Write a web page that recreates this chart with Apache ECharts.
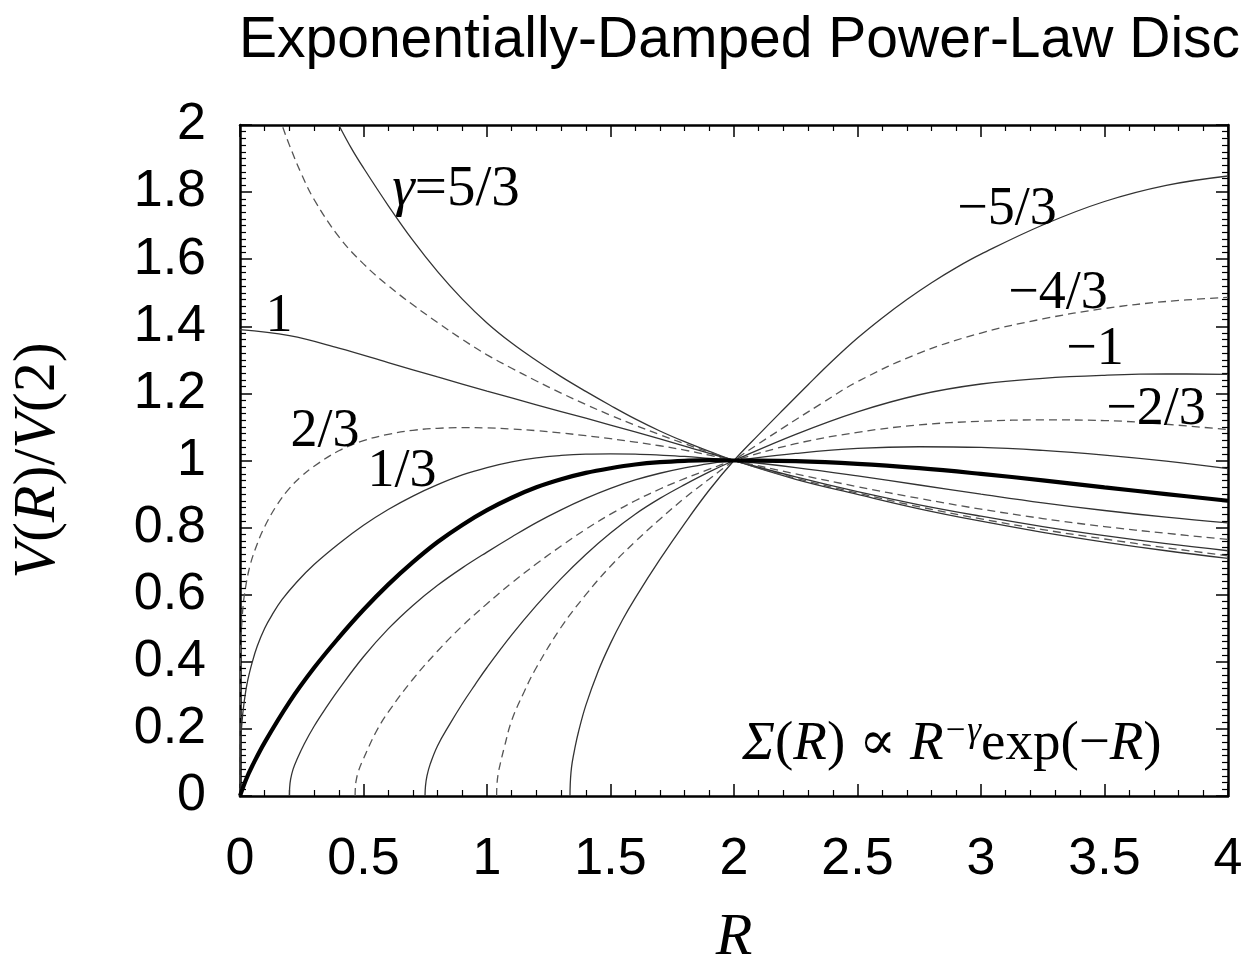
<!DOCTYPE html>
<html><head><meta charset="utf-8">
<script src="https://cdn.jsdelivr.net/npm/echarts@6/dist/echarts.min.js"></script>
<style>html,body{margin:0;padding:0;background:#fff}#c{width:1247px;height:973px}</style>
</head><body><div id="c"></div>
<script>
// ---- axis ranges / ticks ----
const R_RANGE = [0, 4];
const V_RANGE = [0, 2];
const R_STEP = 0.5;
const V_STEP = 0.2;

// ---- curve names (gamma) ----
const gammaNames = ['5/3','4/3','1','2/3','1/3','0','−1/3','−2/3','−1','−4/3','−5/3'];

// ---- curves: [R, V(R)/V(2)] ----
const g_p5_3 = [[0.38,2.03],[0.4,2.0],[0.45,1.932],[0.5,1.872],[0.6,1.76],[0.7,1.656],[0.8,1.563],[0.9,1.481],[1.0,1.41],[1.1,1.35],[1.2,1.298],[1.3,1.25],[1.4,1.206],[1.5,1.164],[1.6,1.124],[1.7,1.088],[1.8,1.056],[1.9,1.027],[2.0,1.0],
  [2.25,0.944],[2.5,0.899],[2.75,0.856],[3.0,0.819],[3.25,0.786],[3.5,0.757],[3.75,0.731],[4.0,0.708]];
const g_p4_3 = [[0.155,2.03],[0.17,2.0],[0.2,1.94],[0.25,1.852],[0.3,1.778],[0.4,1.667],[0.5,1.586],[0.6,1.521],[0.7,1.464],[0.8,1.411],[0.9,1.361],[1.0,1.315],[1.1,1.275],[1.2,1.237],[1.3,1.201],[1.4,1.167],[1.5,1.135],[1.6,1.105],[1.7,1.077],[1.8,1.05],[1.9,1.025],[2.0,1.0],
  [2.25,0.947],[2.5,0.903],[2.75,0.862],[3.0,0.826],[3.25,0.794],[3.5,0.766],[3.75,0.74],[4.0,0.716]];
const g_p1 = [[0,1.39],[0.2,1.372],[0.4,1.335],[0.6,1.292],[0.8,1.249],[1.0,1.207],[1.2,1.166],[1.4,1.126],[1.6,1.085],[1.8,1.043],[2.0,1.0],
  [2.25,0.951],[2.5,0.907],[2.75,0.868],[3.0,0.834],[3.25,0.803],[3.5,0.776],[3.75,0.752],[4.0,0.731]];
const g_p2_3 = [[0,0],[0.001,0.37],[0.003,0.445],[0.01,0.545],[0.02,0.61],[0.04,0.685],[0.07,0.752],[0.1,0.803],[0.15,0.868],[0.2,0.917],[0.25,0.954],[0.3,0.983],[0.4,1.029],[0.5,1.059],[0.6,1.078],[0.7,1.09],[0.8,1.096],[0.9,1.098],[1.0,1.097],[1.1,1.094],[1.2,1.089],[1.3,1.082],[1.4,1.074],[1.5,1.065],[1.6,1.055],[1.7,1.044],[1.8,1.031],[1.9,1.016],[2.0,1.0],
  [2.25,0.96],[2.5,0.922],[2.75,0.887],[3.0,0.855],[3.25,0.827],[3.5,0.803],[3.75,0.783],[4.0,0.765]];
const g_p1_3 = [[0,0],[0.003,0.16],[0.008,0.22],[0.016,0.275],[0.03,0.34],[0.05,0.4],[0.07,0.447],[0.1,0.5],[0.13,0.54],[0.17,0.585],[0.23,0.638],[0.3,0.69],[0.4,0.752],[0.5,0.807],[0.6,0.854],[0.7,0.894],[0.8,0.928],[0.9,0.957],[1.0,0.979],[1.1,0.996],[1.2,1.008],[1.3,1.015],[1.4,1.019],[1.5,1.02],[1.6,1.019],[1.7,1.016],[1.8,1.012],[1.9,1.006],[2.0,1.0],
  [2.25,0.979],[2.5,0.954],[2.75,0.927],[3.0,0.9],[3.25,0.874],[3.5,0.851],[3.75,0.831],[4.0,0.814]];
const g_0 = [[0,0],[0.025,0.05],[0.05,0.09],[0.1,0.16],[0.2,0.28],[0.3,0.382],[0.4,0.472],[0.5,0.555],[0.6,0.63],[0.7,0.697],[0.8,0.757],[0.9,0.808],[1.0,0.852],[1.1,0.889],[1.2,0.92],[1.3,0.944],[1.4,0.963],[1.5,0.977],[1.6,0.988],[1.7,0.995],[1.8,0.999],[1.9,1.001],[2.0,1.0],
  [2.25,0.998],[2.5,0.99],[2.75,0.977],[3.0,0.96],[3.25,0.941],[3.5,0.92],[3.75,0.9],[4.0,0.88]];
const g_m1_3 = [[0.2,0],[0.201,0.025],[0.205,0.05],[0.215,0.08],[0.23,0.108],[0.26,0.155],[0.3,0.208],[0.35,0.265],[0.4,0.318],[0.5,0.415],[0.6,0.498],[0.7,0.568],[0.8,0.628],[0.9,0.68],[1.0,0.727],[1.1,0.772],[1.2,0.815],[1.3,0.853],[1.4,0.887],[1.5,0.917],[1.6,0.942],[1.7,0.962],[1.8,0.978],[1.9,0.991],[2.0,1.0],
  [2.25,1.021],[2.5,1.036],[2.75,1.041],[3.0,1.039],[3.25,1.03],[3.5,1.016],[3.75,0.998],[4.0,0.976]];
const g_m2_3 = [[0.466,0],[0.467,0.025],[0.47,0.045],[0.48,0.075],[0.5,0.111],[0.55,0.19],[0.6,0.25],[0.7,0.348],[0.8,0.432],[0.9,0.507],[1.0,0.573],[1.1,0.635],[1.2,0.692],[1.3,0.745],[1.4,0.795],[1.5,0.84],[1.6,0.88],[1.7,0.915],[1.8,0.946],[1.9,0.974],[2.0,1.0],
  [2.25,1.05],[2.5,1.084],[2.75,1.106],[3.0,1.117],[3.25,1.121],[3.5,1.119],[3.75,1.108],[4.0,1.092]];
const g_m1 = [[0.749,0],[0.751,0.03],[0.757,0.06],[0.77,0.095],[0.8,0.15],[0.85,0.215],[0.9,0.275],[0.95,0.33],[1.0,0.383],[1.1,0.48],[1.2,0.568],[1.3,0.648],[1.4,0.72],[1.5,0.784],[1.6,0.84],[1.7,0.887],[1.8,0.928],[1.9,0.966],[2.0,1.0],
  [2.25,1.078],[2.5,1.145],[2.75,1.196],[3.0,1.228],[3.25,1.245],[3.5,1.254],[3.75,1.258],[4.0,1.257]];
const g_m4_3 = [[1.039,0],[1.04,0.03],[1.045,0.065],[1.055,0.1],[1.07,0.145],[1.1,0.225],[1.15,0.31],[1.2,0.383],[1.3,0.503],[1.4,0.6],[1.5,0.685],[1.6,0.758],[1.7,0.825],[1.8,0.888],[1.9,0.945],[2.0,1.0],
  [2.1,1.05],[2.2,1.098],[2.35,1.168],[2.5,1.235],[2.75,1.32],[3.0,1.38],[3.25,1.422],[3.5,1.453],[3.75,1.474],[4.0,1.486]];
const g_m5_3 = [[1.336,0],[1.337,0.035],[1.34,0.07],[1.345,0.1],[1.355,0.14],[1.37,0.19],[1.4,0.27],[1.45,0.372],[1.5,0.455],[1.55,0.527],[1.6,0.59],[1.7,0.705],[1.8,0.812],[1.9,0.912],[2.0,1.0],
  [2.1,1.077],[2.2,1.152],[2.3,1.226],[2.4,1.298],[2.5,1.365],[2.6,1.425],[2.7,1.48],[2.8,1.53],[2.9,1.575],[3.0,1.615],[3.25,1.702],[3.5,1.772],[3.75,1.82],[4.0,1.848]];

const curves = [g_p5_3, g_p4_3, g_p1, g_p2_3, g_p1_3, g_0, g_m1_3, g_m2_3, g_m1, g_m4_3, g_m5_3];
const styleKind = ['solid','dashed','solid','dashed','solid','thick','solid','dashed','solid','dashed','solid'];

const SERIF = '"Liberation Serif","DejaVu Serif",serif';
const SANS = '"Liberation Sans",Arial,sans-serif';

function lineStyleFor(k){
  if (k === 'thick') return {color:'#000', width:4.2, type:'solid'};
  if (k === 'dashed') return {color:'#555', width:1.3, type:[8,5]};
  return {color:'#333', width:1.3, type:'solid'};
}

const series = curves.map((d,i)=>({
  name: 'γ=' + gammaNames[i],
  type: 'line',
  data: d,
  showSymbol: false,
  smooth: 0.4,
  clip: true,
  lineStyle: lineStyleFor(styleKind[i]),
  silent: true,
  z: styleKind[i]==='thick' ? 3 : 2
}));

function axisCommon(extra){
  return Object.assign({
    type:'value',
    splitLine:{show:false},
    axisLine:{show:true, onZero:false, lineStyle:{color:'#000', width:2.5}},
    axisTick:{show:true, inside:true, length:12, lineStyle:{color:'#000', width:1.5}},
    minorSplitLine:{show:false}
  }, extra);
}

const labelFont = {fontFamily:SANS, fontSize:52, color:'#000'};

function richSet(size){
  return {
    i:{fontFamily:SERIF, fontSize:size, fontStyle:'italic', fill:'#000', color:'#000'},
    n:{fontFamily:SERIF, fontSize:size, fontStyle:'normal', fill:'#000', color:'#000'}
  };
}

function textEl(text, x, y, size){
  return {type:'text', x:x, y:y, silent:true, z:10,
    style:{text:text, fontFamily:SERIF, fontSize:size, fill:'#000', align:'center', verticalAlign:'middle', rich:richSet(size)}};
}

const chart = echarts.init(document.getElementById('c'), null, {renderer:'canvas'});
chart.setOption({
  animation:false,
  backgroundColor:'#fff',
  title:{text:'Exponentially-Damped Power-Law Disc', left:234, top:8,
    textStyle:{fontFamily:SANS, fontSize:57, fontWeight:'normal', color:'#000'}},
  grid:{left:240, right:19, top:125, bottom:165, containLabel:false},
  xAxis:[
    axisCommon({min:R_RANGE[0], max:R_RANGE[1], interval:R_STEP, position:'bottom',
      minorTick:{show:true, splitNumber:5, length:6, lineStyle:{color:'#000', width:1.2}},
      axisLabel:Object.assign({margin:38}, labelFont),
      name:'{i|R}', nameLocation:'middle', nameGap:112,
      nameTextStyle:{fontFamily:SERIF, fontSize:60, color:'#000', rich:{i:{fontFamily:SERIF, fontSize:60, fontStyle:'italic', color:'#000'}}}
    }),
    axisCommon({min:R_RANGE[0], max:R_RANGE[1], interval:R_STEP, position:'top',
      minorTick:{show:true, splitNumber:5, length:6, lineStyle:{color:'#000', width:1.2}},
      axisLabel:{show:false}})
  ],
  yAxis:[
    axisCommon({min:V_RANGE[0], max:V_RANGE[1], interval:V_STEP, position:'left',
      minorTick:{show:true, splitNumber:10, length:6, lineStyle:{color:'#000', width:1.2}},
      axisLabel:Object.assign({margin:34}, labelFont),
      name:'{i|V}{n|(}{i|R}{n|)/}{i|V}{n|(2)}', nameLocation:'middle', nameGap:172, nameRotate:90,
      nameTextStyle:{fontFamily:SERIF, fontSize:60, color:'#000', rich:{
        i:{fontFamily:SERIF, fontSize:60, fontStyle:'italic', color:'#000'},
        n:{fontFamily:SERIF, fontSize:60, fontStyle:'normal', color:'#000'}}}
    }),
    axisCommon({min:V_RANGE[0], max:V_RANGE[1], interval:V_STEP, position:'right',
      minorTick:{show:true, splitNumber:10, length:6, lineStyle:{color:'#000', width:1.2}},
      axisLabel:{show:false}})
  ],
  series: series,
  graphic:[
    textEl('{i|γ}{n|=5/3}', 456, 190, 57),
    textEl('{n|1}', 279, 317, 54),
    textEl('{n|2/3}', 325, 432, 54),
    textEl('{n|1/3}', 402, 472, 54),
    textEl('{n|−5/3}', 1007, 210, 54),
    textEl('{n|−4/3}', 1058, 294, 54),
    textEl('{n|−1}', 1095, 350, 54),
    textEl('{n|−2/3}', 1156, 410, 54),
    {type:'text', x:952, y:745, silent:true, z:10,
      style:{text:'{i|Σ}{n|(}{i|R}{n|) ∝ }{i|R}{s|−γ}{n|exp(−}{i|R}{n|)}', fontFamily:SERIF, fontSize:55, fill:'#000',
        align:'center', verticalAlign:'middle',
        rich:{
          i:{fontFamily:SERIF, fontSize:55, fontStyle:'italic', fill:'#000', lineHeight:62},
          n:{fontFamily:SERIF, fontSize:55, fontStyle:'normal', fill:'#000', lineHeight:62},
          s:{fontFamily:SERIF, fontSize:35, fontStyle:'italic', fill:'#000', lineHeight:35, verticalAlign:'top'}
        }}}
  ]
});
</script>
</body></html>
